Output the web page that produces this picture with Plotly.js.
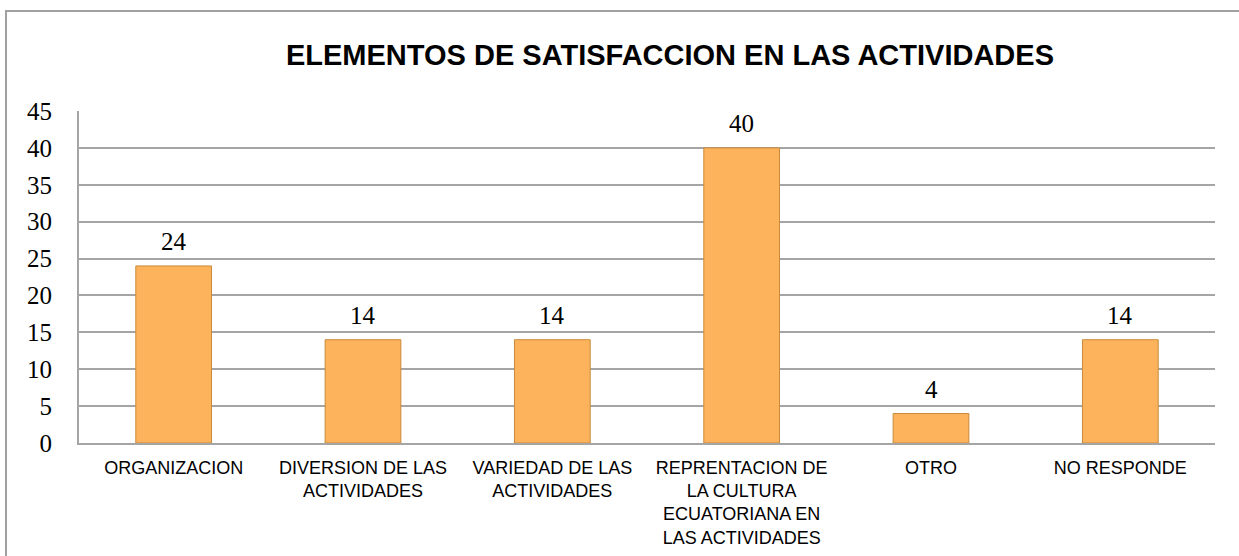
<!DOCTYPE html>
<html>
<head>
<meta charset="utf-8">
<script src="https://cdn.plot.ly/plotly-3.0.1.min.js"></script>
<style>
html,body{margin:0;padding:0;background:#fff;}
#chart{width:1239px;height:556px;}
</style>
</head>
<body>
<div id="chart"></div>
<script>
const categories = [
  "ORGANIZACION",
  "DIVERSION DE LAS<br>ACTIVIDADES",
  "VARIEDAD DE LAS<br>ACTIVIDADES",
  "REPRENTACION DE<br>LA CULTURA<br>ECUATORIANA EN<br>LAS ACTIVIDADES",
  "OTRO",
  "NO RESPONDE"
];
const values = [24, 14, 14, 40, 4, 14];
const yTicks = [0, 5, 10, 15, 20, 25, 30, 35, 40, 45];
const chartTitle = "ELEMENTOS DE SATISFACCION EN LAS ACTIVIDADES";

const L = 79, R = 1215, T = 111, B = 443, W = 1239, H = 556;
const px2x = p => (p - L) / (R - L);
const px2y = p => (B - p) / (B - T);

const trace = {
  type: "bar",
  x: categories,
  y: values,
  width: 0.4,
  marker: {color: "#FDB35B", line: {color: "#C98A3C", width: 1}},
  hoverinfo: "x+y"
};

const labelAnnotations = categories.map((c, i) => ({
  x: c, y: values[i], xref: "x", yref: "y",
  text: String(values[i]), showarrow: false,
  xanchor: "center", yanchor: "middle", yshift: 24,
  font: {family: "Liberation Serif, serif", size: 25, color: "#000"}
}));

const layout = {
  width: W, height: H,
  margin: {l: L, r: W - R, t: T, b: H - B},
  paper_bgcolor: "#fff",
  plot_bgcolor: "#fff",
  showlegend: false,
  title: {
    text: "<b>" + chartTitle + "</b>",
    font: {family: "Liberation Sans, Arial, sans-serif", size: 29, color: "#000"},
    xref: "container", yref: "container",
    x: 670 / W, y: 1 - 55 / H, xanchor: "center", yanchor: "middle"
  },
  xaxis: {
    type: "category",
    showline: true, linecolor: "#A5A5A5", linewidth: 2,
    showgrid: false, ticks: "",
    tickfont: {family: "Liberation Sans, Arial, sans-serif", size: 18, color: "#000"},
    ticklabelstandoff: 7,
    automargin: false
  },
  yaxis: {
    range: [0, 45],
    tickvals: yTicks,
    ticktext: yTicks.map(String),
    showline: true, linecolor: "#A5A5A5", linewidth: 2,
    showgrid: true, gridcolor: "#A5A5A5", gridwidth: 2,
    zeroline: false, ticks: "",
    tickfont: {family: "Liberation Serif, serif", size: 25, color: "#000"},
    ticklabelstandoff: 20,
    automargin: false
  },
  annotations: labelAnnotations,
  shapes: [{
    type: "rect", xref: "paper", yref: "paper",
    x0: px2x(6), x1: px2x(1250), y0: px2y(570), y1: px2y(11),
    line: {color: "#A0A0A0", width: 2}, fillcolor: "rgba(0,0,0,0)", layer: "below"
  }]
};

Plotly.newPlot("chart", [trace], layout, {displayModeBar: false, staticPlot: true});
</script>
</body>
</html>
